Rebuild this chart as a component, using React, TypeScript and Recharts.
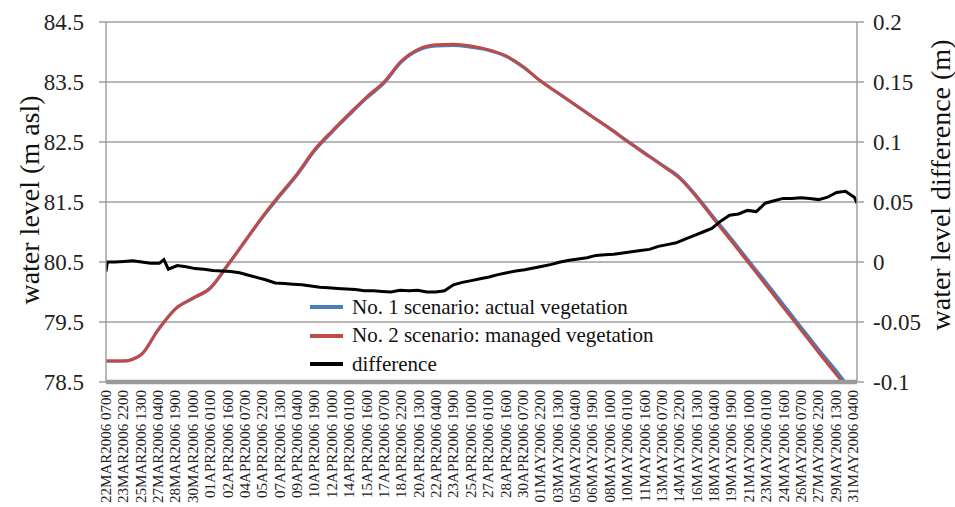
import React from "react";
import { LineChart, Line, XAxis, YAxis, CartesianGrid, Legend } from "recharts";

const FONT = "Liberation Serif, Tinos, Times New Roman, Times, DejaVu Serif, serif";

const tickLabels = [
  "22MAR2006 0700", "23MAR2006 2200", "25MAR2006 1300", "27MAR2006 0400", "28MAR2006 1900",
  "30MAR2006 1000", "01APR2006 0100", "02APR2006 1600", "04APR2006 0700", "05APR2006 2200",
  "07APR2006 1300", "09APR2006 0400", "10APR2006 1900", "12APR2006 1000", "14APR2006 0100",
  "15APR2006 1600", "17APR2006 0700", "18APR2006 2200", "20APR2006 1300", "22APR2006 0400",
  "23APR2006 1900", "25APR2006 1000", "27APR2006 0100", "28APR2006 1600", "30APR2006 0700",
  "01MAY2006 2200", "03MAY2006 1300", "05MAY2006 0400", "06MAY2006 1900", "08MAY2006 1000",
  "10MAY2006 0100", "11MAY2006 1600", "13MAY2006 0700", "14MAY2006 2200", "16MAY2006 1300",
  "18MAY2006 0400", "19MAY2006 1900", "21MAY2006 1000", "23MAY2006 0100", "24MAY2006 1600",
  "26MAY2006 0700", "27MAY2006 2200", "29MAY2006 1300", "31MAY2006 0400",
];
const endLabel = "31MAY2006 1300";

// water level (m asl), read at each tick label time and at the end of the record
const scenario1 = [
  78.85, 78.85, 78.95, 79.37, 79.72, 79.89, 80.06, 80.44, 80.84, 81.24,
  81.6, 81.95, 82.35, 82.66, 82.95, 83.23, 83.48, 83.83, 84.03, 84.1,
  84.11, 84.08, 84.03, 83.93, 83.75, 83.52, 83.32, 83.12, 82.92, 82.73,
  82.52, 82.32, 82.12, 81.92, 81.6, 81.24, 80.89, 80.52, 80.16, 79.79,
  79.42, 79.05, 78.7, 78.35, 78.3,
];
const scenario2 = [
  78.85, 78.85, 78.95, 79.37, 79.72, 79.9, 80.07, 80.45, 80.85, 81.25,
  81.62, 81.97, 82.37, 82.68, 82.97, 83.25, 83.5, 83.85, 84.05, 84.12,
  84.13, 84.1, 84.04, 83.94, 83.76, 83.52, 83.32, 83.12, 82.92, 82.72,
  82.51, 82.31, 82.11, 81.9, 81.58, 81.21, 80.85, 80.48, 80.11, 79.74,
  79.37, 79.0, 78.64, 78.28, 78.2,
];

// water level difference (m), hours after the first time stamp
const diffHours = [
  0, 3, 20, 40, 60, 80, 100, 120, 130, 140, 160, 180, 200, 220, 240, 260, 280, 300, 320, 340, 360,
  380, 400, 420, 440, 460, 480, 500, 520, 540, 560, 580, 600, 620, 640, 660, 680, 700, 720,
  740, 760, 780, 800, 820, 840, 860, 880, 900, 920, 940, 960, 980, 1000, 1020, 1040, 1060,
  1080, 1100, 1120, 1140, 1160, 1180, 1200, 1220, 1240, 1260, 1280, 1300, 1320, 1340, 1360,
  1380, 1400, 1420, 1440, 1460, 1480, 1500, 1520, 1540, 1560, 1580, 1600, 1620, 1640, 1660,
  1680, 1686,
];
const difference = [
  -0.008, 0, 0, 0.0005, 0.001, 0, -0.001, -0.001, 0.002, -0.006, -0.003, -0.004, -0.0055, -0.006,
  -0.007, -0.0075, -0.008, -0.009, -0.011, -0.013, -0.015, -0.0175, -0.018, -0.0185, -0.019,
  -0.02, -0.021, -0.0215, -0.022, -0.0225, -0.023, -0.024, -0.024, -0.0245, -0.025, -0.0235,
  -0.024, -0.0235, -0.025, -0.025, -0.024, -0.019, -0.017, -0.0155, -0.014, -0.0125, -0.0105,
  -0.009, -0.0075, -0.0065, -0.005, -0.0035, -0.002, 0, 0.0015, 0.0025, 0.0035, 0.0055, 0.006,
  0.0065, 0.0075, 0.0085, 0.0095, 0.0105, 0.013, 0.0145, 0.016, 0.019, 0.022, 0.025, 0.028,
  0.034, 0.039, 0.04, 0.043, 0.042, 0.049, 0.051, 0.053, 0.053, 0.0535, 0.053, 0.052, 0.054,
  0.058, 0.059, 0.054, 0.049,
];

const leftTicks = [78.5, 79.5, 80.5, 81.5, 82.5, 83.5, 84.5];
const rightTicks = [-0.1, -0.05, 0, 0.05, 0.1, 0.15, 0.2];

const MONTHS: Record<string, number> = { MAR: 2, APR: 3, MAY: 4 };
const toTime = (s: string) =>
  Date.UTC(+s.slice(5, 9), MONTHS[s.slice(2, 5)], +s.slice(0, 2), +s.slice(10, 12));
const t0 = toTime(tickLabels[0]);
const toHours = (s: string) => (toTime(s) - t0) / 3600000;

const tickHours = tickLabels.map(toHours);
const endHours = toHours(endLabel);
const labelOf = new Map(tickHours.map((h, i) => [h, tickLabels[i]]));

const levelData = [...tickLabels, endLabel].map((t, i) => ({
  h: toHours(t),
  s1: scenario1[i],
  s2: scenario2[i],
}));
const diffData = diffHours.map((h, i) => ({ h, d: difference[i] }));

const XTick = ({ x, y, payload }: any) => (
  <text
    x={x}
    y={y}
    dx={-8}
    transform={`rotate(-90, ${x}, ${y})`}
    textAnchor="end"
    dominantBaseline="central"
    fontSize={15}
    style={{ fontFamily: FONT }}
    fill="#222"
  >
    {labelOf.get(payload.value)}
  </text>
);

const LegendBox = ({ payload }: any) => (
  <div style={{ fontFamily: FONT, fontSize: 21, color: "#111" }}>
    {(payload || []).map((p: any) => (
      <div key={p.value} style={{ display: "flex", alignItems: "center", height: 28.5 }}>
        <span style={{ display: "inline-block", width: 33, height: 4, background: p.color, marginRight: 9 }} />
        <span>{p.value}</span>
      </div>
    ))}
  </div>
);

const axisTitle = (text: string, dxFromLeft: number, dy: number, size: number) => ({ viewBox }: any) => {
  const cx = viewBox.x + dxFromLeft;
  const cy = viewBox.y + viewBox.height / 2 + dy;
  return (
    <text
      x={cx}
      y={cy}
      transform={`rotate(-90, ${cx}, ${cy})`}
      textAnchor="middle"
      dominantBaseline="central"
      fontSize={size}
      style={{ fontFamily: FONT }}
      fill="#111"
    >
      {text}
    </text>
  );
};

const tickStyle = { fontSize: 23, fill: "#222", style: { fontFamily: FONT } };

export default function App() {
  return (
    <div style={{ position: "absolute", left: 0, top: 0, background: "#fff", fontFamily: FONT }}>
      <LineChart width={955} height={507} margin={{ top: 22, right: 0, bottom: 0, left: 0 }}>
        <CartesianGrid yAxisId="left" vertical={false} stroke="#a0a0a0" strokeWidth={1.4} />
        <XAxis
          type="number"
          dataKey="h"
          domain={[0, endHours]}
          ticks={tickHours}
          interval={0}
          tick={<XTick />}
          tickLine={false}
          tickSize={0}
          tickMargin={0}
          height={125}
          axisLine={{ stroke: "#9a9a9a", strokeWidth: 4.5 }}
          allowDataOverflow
        />
        <YAxis
          yAxisId="left"
          domain={[78.5, 84.5]}
          ticks={leftTicks}
          interval={0}
          width={106}
          tickSize={7}
          tickMargin={15}
          allowDataOverflow
          axisLine={{ stroke: "#9a9a9a", strokeWidth: 1.4 }}
          tickLine={{ stroke: "#9a9a9a", strokeWidth: 1.4 }}
          tick={tickStyle}
          label={{ content: axisTitle("water level (m asl)", 29, -2, 28) }}
        />
        <YAxis
          yAxisId="right"
          orientation="right"
          domain={[-0.1, 0.2]}
          ticks={rightTicks}
          interval={0}
          width={98}
          tickSize={7}
          tickMargin={9}
          allowDataOverflow
          axisLine={{ stroke: "#9a9a9a", strokeWidth: 1.4 }}
          tickLine={{ stroke: "#9a9a9a", strokeWidth: 1.4 }}
          tick={tickStyle}
          label={{ content: axisTitle("water level difference (m)", 83, -17, 28) }}
        />
        <Legend
          layout="vertical"
          align="center"
          verticalAlign="middle"
          content={<LegendBox />}
          wrapperStyle={{ left: 310, top: 293, width: "auto" }}
        />
        <Line
          yAxisId="left"
          data={levelData}
          dataKey="s1"
          name="No. 1 scenario: actual vegetation"
          type="monotone"
          stroke="#4a7ebb"
          strokeWidth={3}
          dot={false}
          isAnimationActive={false}
        />
        <Line
          yAxisId="left"
          data={levelData}
          dataKey="s2"
          name="No. 2 scenario: managed vegetation"
          type="monotone"
          stroke="#be4b48"
          strokeWidth={3}
          dot={false}
          isAnimationActive={false}
        />
        <Line
          yAxisId="right"
          data={diffData}
          dataKey="d"
          name="difference"
          type="linear"
          stroke="#000"
          strokeWidth={3}
          dot={false}
          isAnimationActive={false}
        />
      </LineChart>
    </div>
  );
}
